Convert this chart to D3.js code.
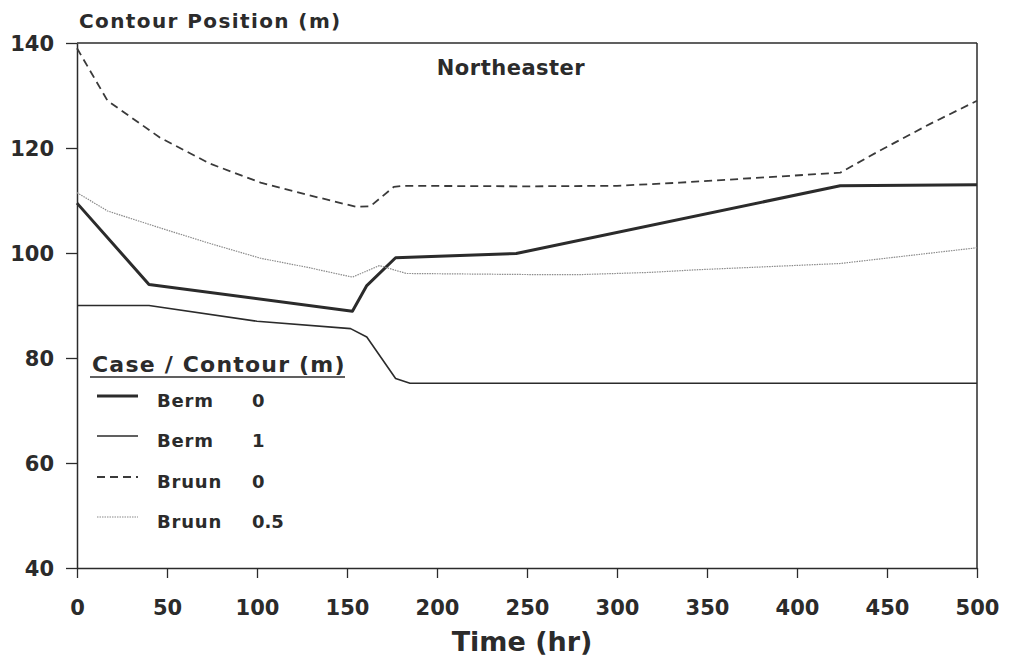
<!DOCTYPE html>
<html><head><meta charset="utf-8">
<script src="https://cdn.jsdelivr.net/npm/d3@7"></script>
<style>body{margin:0;background:#fff;} text{font-family:"DejaVu Sans",sans-serif;font-weight:bold;fill:#2b2b2b;}</style>
</head><body><svg id="c" width="1009" height="661"></svg>
<script>
const xTicks = [0,50,100,150,200,250,300,350,400,450,500];
const yTicks = [40,60,80,100,120,140];
const bermT0 = [0,40,153,161,177,244,424,500];
const bermV0 = [109.5,94,88.9,93.8,99.1,99.9,112.8,113];
const bermT1 = [0,40,100,152,161,177,185,500];
const bermV1 = [90,90,87,85.6,84,76.1,75.2,75.2];
const bruunT0 = [0,17,46,74,102,129,155,163,176,181,250,300,335,424,446,474,500];
const bruunV0 = [139,129,122,117,113.4,111,108.8,108.9,112.6,112.8,112.7,112.8,113.4,115.3,119.5,124.6,129];
const bruunT05 = [0,17,46,74,102,129,153,168,183,250,281,318,344,424,500];
const bruunV05 = [111.5,108,104.8,101.8,99,97.2,95.4,97.6,96.1,95.9,95.9,96.3,96.8,98,101];
const seriesNames = ["Berm","Berm","Bruun","Bruun"];
const seriesContours = ["0","1","0","0.5"];

const svg = d3.select("#c");
const x = d3.scaleLinear().domain([0,500]).range([77,977]);
const y = d3.scaleLinear().domain([40,140]).range([568,43]);
const ink = "#2b2b2b";

// frame top/right
svg.append("line").attr("x1",77).attr("x2",977).attr("y1",43).attr("y2",43).attr("stroke",ink).attr("stroke-width",1.5);
svg.append("line").attr("x1",977).attr("x2",977).attr("y1",43).attr("y2",568).attr("stroke",ink).attr("stroke-width",1.5);

const xa = svg.append("g").attr("transform","translate(0,568)")
  .call(d3.axisBottom(x).tickValues(xTicks).tickSize(10).tickPadding(22).tickSizeOuter(0));
const ya = svg.append("g").attr("transform","translate(77,0)")
  .call(d3.axisLeft(y).tickValues(yTicks).tickSize(11).tickPadding(12).tickSizeOuter(0));
[xa,ya].forEach(g=>{
  g.select(".domain").attr("stroke",ink).attr("stroke-width",1.5);
  g.selectAll(".tick line").attr("stroke",ink).attr("stroke-width",1.3);
  g.selectAll("text").style("font-family","DejaVu Sans").style("font-weight","bold").attr("fill",ink);
});
xa.selectAll("text").style("font-size","21px");
ya.selectAll("text").style("font-size","21px").attr("dy","0.36em");

const line = d3.line().x(d=>x(d[0])).y(d=>y(d[1]));
const styles = [
  {w:3, dash:null, c:"#2b2b2b"},
  {w:1.6, dash:null, c:"#2b2b2b"},
  {w:1.8, dash:"8,5", c:"#3a3a3a"},
  {w:1.2, dash:"1.5,1", c:"#8a8a8a"}
];
const data = [
  d3.zip(bermT0,bermV0), d3.zip(bermT1,bermV1), d3.zip(bruunT0,bruunV0), d3.zip(bruunT05,bruunV05)
];
data.forEach((d,i)=>{
  svg.append("path").attr("d",line(d)).attr("fill","none").attr("stroke",styles[i].c)
    .attr("stroke-width",styles[i].w).attr("stroke-dasharray",styles[i].dash).attr("stroke-linejoin","round");
});

svg.append("text").attr("x",79).attr("y",28).style("font-size","20px").style("letter-spacing","1.4px").text("Contour Position (m)");
svg.append("text").attr("x",511).attr("y",75).attr("text-anchor","middle").style("font-size","21px").style("letter-spacing","0.5px").text("Northeaster");
svg.append("text").attr("x",522).attr("y",651).attr("text-anchor","middle").style("font-size","27px").text("Time (hr)");

// legend
svg.append("text").attr("x",92).attr("y",372).style("font-size","22px").style("letter-spacing","1.2px").text("Case / Contour (m)");
svg.append("line").attr("x1",90).attr("x2",345).attr("y1",377).attr("y2",377).attr("stroke",ink).attr("stroke-width",1.6);
const ly = [396,436,477,517];
seriesNames.forEach((n,i)=>{
  svg.append("line").attr("x1",97).attr("x2",138).attr("y1",ly[i]).attr("y2",ly[i])
    .attr("stroke",styles[i].c).attr("stroke-width",styles[i].w).attr("stroke-dasharray",styles[i].dash);
  svg.append("text").attr("x",157).attr("y",ly[i]+11).style("font-size","18px").style("letter-spacing","0.8px").text(n);
  svg.append("text").attr("x",252).attr("y",ly[i]+11).style("font-size","18px").text(seriesContours[i]);
});
</script></body></html>
